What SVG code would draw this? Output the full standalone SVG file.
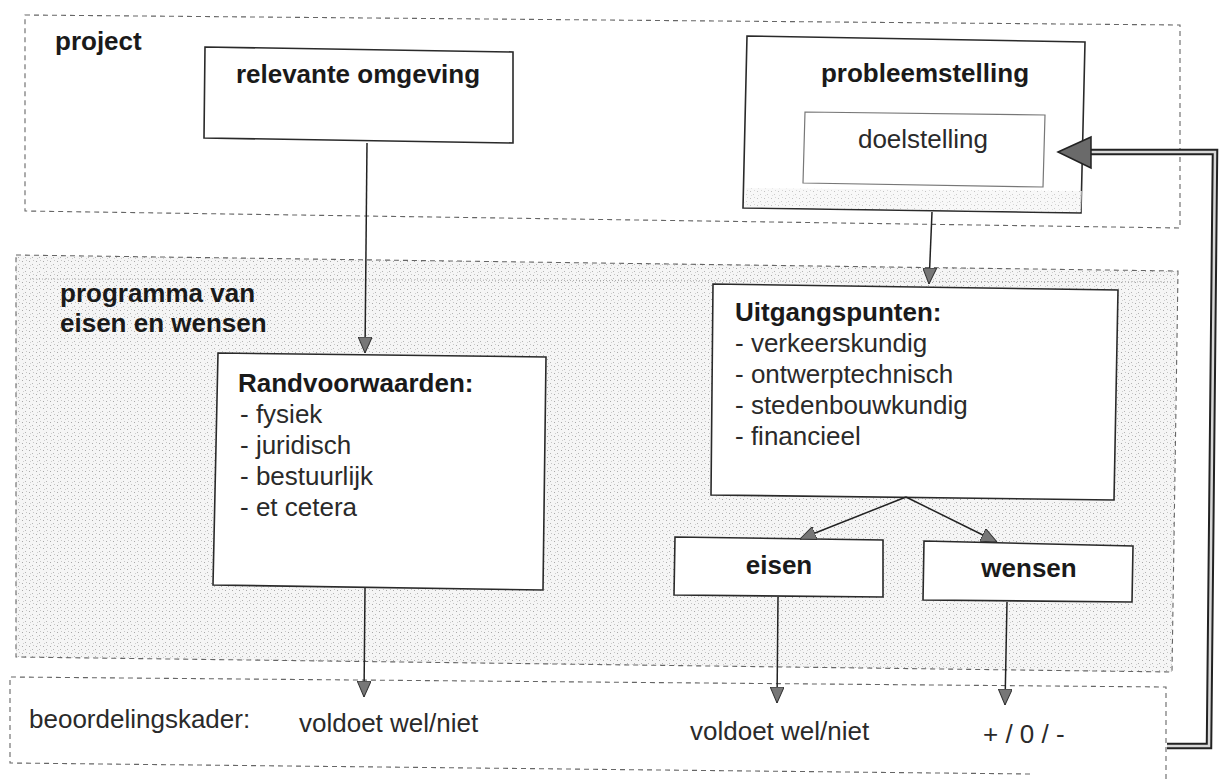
<svg xmlns="http://www.w3.org/2000/svg" width="1219" height="780" viewBox="0 0 1219 780">
<defs>
<pattern id="stip" width="7" height="7" patternUnits="userSpaceOnUse">
<rect width="7" height="7" fill="#f5f5f5"/>
<rect x="1" y="2" width="1" height="1" fill="#a8a8a8"/>
<rect x="4" y="5" width="1" height="1" fill="#b4b4b4"/>
<rect x="5" y="1" width="1" height="1" fill="#c6c6c6"/>
<rect x="2" y="6" width="1" height="1" fill="#cfcfcf"/>
</pattern>
<marker id="ah" markerWidth="16" markerHeight="14" refX="16" refY="7" orient="auto" markerUnits="userSpaceOnUse">
<path d="M0,0 L16,7 L0,14 Z" fill="#777" stroke="#333" stroke-width="1"/>
</marker>
<style>
.zone{fill:none;stroke:#666;stroke-width:1.1;stroke-dasharray:5 4}
.box{fill:#fff;stroke:#2a2a2a;stroke-width:1.6}
.inner{fill:#fff;stroke:#777;stroke-width:1.2}
.t{font-family:"Liberation Sans",Arial,sans-serif;font-size:26px;fill:#2a2a2a}
.b{font-weight:bold;fill:#1a1a1a}
.c{text-anchor:middle}
.con{fill:none;stroke:#222;stroke-width:1.5}
</style>
</defs>
<rect width="1219" height="780" fill="#fff"/>

<g id="zone-programma">
<polygon points="16,255 1178,271 1172,672 16,657" fill="url(#stip)" stroke="none"/>
<line x1="30" y1="279" x2="1172" y2="282" stroke="#aaa" stroke-width="1" stroke-dasharray="1 2"/>
<polygon class="zone" points="16,255 1178,271 1172,672 16,657"/>
<text class="t b" x="60" y="302">programma van</text>
<text class="t b" x="60" y="332">eisen en wensen</text>
</g>

<g id="zone-project">
<polygon class="zone" points="25,15 1180,25 1180,228 25,211"/>
<text class="t b" x="55" y="50">project</text>
</g>

<g id="zone-beoordelingskader">
<path class="zone" d="M1030,774 L10,763 L10,677 L1166,687 L1166,780"/>
<text class="t" x="29" y="728">beoordelingskader:</text>
<text class="t" x="299" y="732">voldoet wel/niet</text>
<text class="t" x="690" y="740">voldoet wel/niet</text>
<text class="t" x="983" y="743">+ / 0 / -</text>
</g>

<g id="node-relevante-omgeving">
<polygon class="box" points="205,47 513,52 513,143 204,138"/>
<text class="t b c" x="358" y="83">relevante omgeving</text>
</g>

<g id="node-probleemstelling">
<polygon class="box" points="747,36 1085,42 1081,213 743,208"/>
<polygon points="746,188 1082,191 1081,212 744,207" fill="url(#stip)" opacity="0.7"/>
<text class="t b c" x="925" y="82">probleemstelling</text>
</g>

<g id="node-doelstelling">
<polygon class="inner" points="805,112 1045,115 1043,187 803,183"/>
<text class="t c" x="923" y="148">doelstelling</text>
</g>

<g id="node-randvoorwaarden">
<polygon class="box" points="218,353 546,357 543,590 213,585"/>
<text class="t b" x="238" y="392">Randvoorwaarden:</text>
<text class="t" x="240" y="423">- fysiek</text>
<text class="t" x="240" y="454">- juridisch</text>
<text class="t" x="240" y="485">- bestuurlijk</text>
<text class="t" x="240" y="516">- et cetera</text>
</g>

<g id="node-uitgangspunten">
<polygon class="box" points="713,284 1118,290 1114,500 711,495"/>
<text class="t b" x="735" y="321">Uitgangspunten:</text>
<text class="t" x="735" y="352">- verkeerskundig</text>
<text class="t" x="735" y="383">- ontwerptechnisch</text>
<text class="t" x="735" y="414">- stedenbouwkundig</text>
<text class="t" x="735" y="445">- financieel</text>
</g>

<g id="node-eisen">
<polygon class="box" points="675,537 883,540 883,597 674,595"/>
<text class="t b c" x="779" y="574">eisen</text>
</g>

<g id="node-wensen">
<polygon class="box" points="924,541 1133,546 1132,602 923,600"/>
<text class="t b c" x="1029" y="577">wensen</text>
</g>

<g id="connectors">
<line class="con" x1="367" y1="143" x2="365" y2="353" marker-end="url(#ah)"/>
<line class="con" x1="932" y1="212" x2="929" y2="284" marker-end="url(#ah)"/>
<line class="con" x1="906" y1="497" x2="800" y2="539" marker-end="url(#ah)"/>
<line class="con" x1="906" y1="497" x2="997" y2="542" marker-end="url(#ah)"/>
<line class="con" x1="365" y1="588" x2="364" y2="697" marker-end="url(#ah)"/>
<line class="con" x1="778" y1="597" x2="777" y2="703" marker-end="url(#ah)"/>
<line class="con" x1="1007" y1="602" x2="1005" y2="705" marker-end="url(#ah)"/>
<polyline points="1167,746 1209,746 1215,152 1090,152" fill="none" stroke="#222" stroke-width="6.5" stroke-linejoin="miter"/>
<polyline points="1167,746 1209,746 1215,152 1090,152" fill="none" stroke="#d8d8d8" stroke-width="2.5" stroke-linejoin="miter"/>
<polygon points="1058,152 1091,137 1091,168" fill="#6a6a6a" stroke="#222" stroke-width="1.5"/>
</g>
</svg>
